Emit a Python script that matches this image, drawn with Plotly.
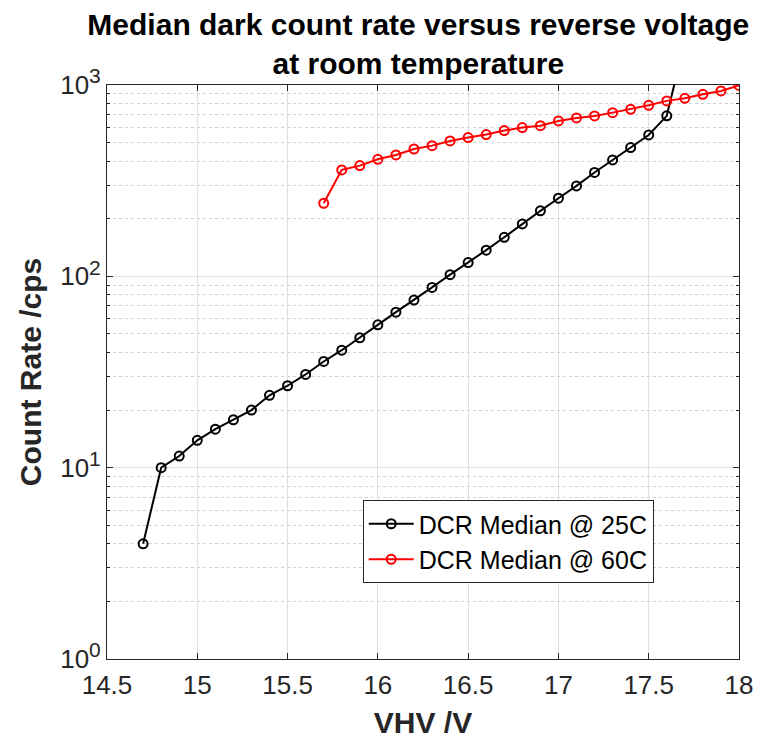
import plotly.graph_objects as go

# ---- data ----
vhv_25c = [14.7, 14.8, 14.9, 15.0, 15.1, 15.2, 15.3, 15.4, 15.5, 15.6, 15.7, 15.8, 15.9,
           16.0, 16.1, 16.2, 16.3, 16.4, 16.5, 16.6, 16.7, 16.8, 16.9, 17.0, 17.1, 17.2,
           17.3, 17.4, 17.5, 17.6, 17.7]
dcr_25c = [4.0, 10.0, 11.5, 13.9, 15.9, 17.8, 20.0, 23.9, 26.8, 30.7, 35.9, 41.1, 47.7,
           55.8, 65.0, 75.2, 87.5, 102, 118, 137, 160, 188, 220, 256, 297, 349,
           406, 471, 548, 690, 1700]

vhv_60c = [15.7, 15.8, 15.9, 16.0, 16.1, 16.2, 16.3, 16.4, 16.5, 16.6, 16.7, 16.8, 16.9,
           17.0, 17.1, 17.2, 17.3, 17.4, 17.5, 17.6, 17.7, 17.8, 17.9, 18.0]
dcr_60c = [241, 360, 379, 409, 431, 463, 482, 510, 531, 551, 578, 599, 613,
           649, 673, 689, 717, 746, 783, 826, 852, 894, 931, 995]

x_ticks = [14.5, 15, 15.5, 16, 16.5, 17, 17.5, 18]
x_ticklabels = ["14.5", "15", "15.5", "16", "16.5", "17", "17.5", "18"]
y_ticks = [1, 10, 100, 1000]
y_ticklabels = ["10<sup><span style='font-size:21px'>0</span></sup>",
                "10<sup><span style='font-size:21px'>1</span></sup>",
                "10<sup><span style='font-size:21px'>2</span></sup>",
                "10<sup><span style='font-size:21px'>3</span></sup>"]

series_names = ["DCR Median @ 25C", "DCR Median @ 60C"]

FONT = "Liberation Sans, Arial, Helvetica, sans-serif"
AX = "#262626"

fig = go.Figure()
fig.add_trace(go.Scatter(
    x=vhv_25c, y=dcr_25c, name=series_names[0], mode="lines+markers",
    line=dict(color="black", width=2),
    marker=dict(symbol="circle-open", size=9, color="black", line=dict(width=2)),
))
fig.add_trace(go.Scatter(
    x=vhv_60c, y=dcr_60c, name=series_names[1], mode="lines+markers",
    line=dict(color="red", width=2),
    marker=dict(symbol="circle-open", size=9, color="red", line=dict(width=2)),
))

axis_common = dict(
    showline=True, linecolor=AX, linewidth=1, mirror="allticks",
    ticks="inside", ticklen=6, tickcolor=AX,
    showgrid=True, gridcolor="#e0e0e0", gridwidth=1,
    zeroline=False, automargin=False,
    tickfont=dict(family=FONT, size=26, color=AX),
)

fig.update_xaxes(
    range=[14.5, 18], tickvals=x_ticks, ticktext=x_ticklabels,
    ticklabelstandoff=3,
    title=dict(text="<b>VHV /V</b>", font=dict(family=FONT, size=30, color=AX), standoff=12),
    **axis_common,
)
fig.update_yaxes(
    type="log", range=[0, 3], tickvals=y_ticks, ticktext=y_ticklabels,
    title=dict(text="<b>Count Rate /cps</b>", font=dict(family=FONT, size=30, color=AX), standoff=9),
    minor=dict(dtick="D1", ticks="inside", ticklen=3, tickcolor=AX,
               showgrid=True, gridcolor="#d0d0d0", griddash="dot", gridwidth=1),
    **axis_common,
)

fig.update_layout(
    width=762, height=739,
    margin=dict(l=107, r=23, t=85, b=80, autoexpand=False),
    paper_bgcolor="white", plot_bgcolor="white",
    title=dict(text="<b>Median dark count rate versus reverse voltage<br>at room temperature</b>",
               xref="container", x=0.549, xanchor="center",
               yref="container", y=0.953, yanchor="top",
               font=dict(family=FONT, size=30, color="black")),
    legend=dict(x=0.4046, y=0.277, xanchor="left", yanchor="top",
                bgcolor="white", bordercolor=AX, borderwidth=1,
                font=dict(family=FONT, size=25, color="black"),
                tracegroupgap=0, itemwidth=45),
    showlegend=True,
)

fig.write_html("out.html", config={"displayModeBar": False},
               post_script="document.body.style.margin='0';")
